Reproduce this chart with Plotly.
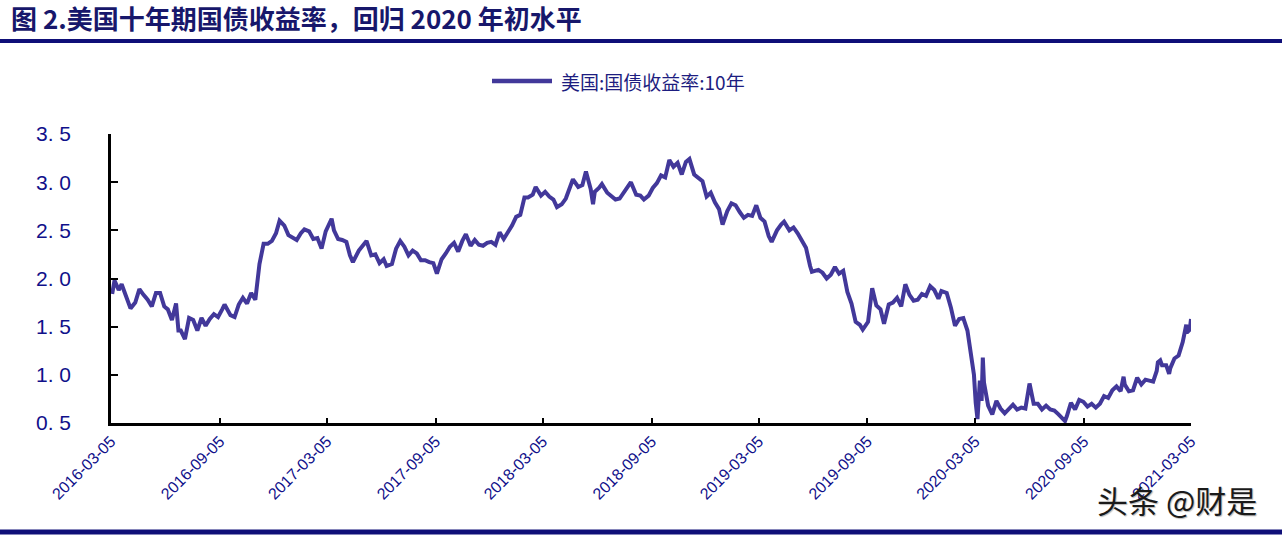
import plotly.graph_objects as go

# ---------------- data (US 10Y Treasury yield, %) ----------------
d2016 = ["2016-03-07","2016-03-11","2016-03-16","2016-03-18","2016-03-23","2016-04-01","2016-04-07","2016-04-15","2016-04-22","2016-04-29",
         "2016-05-06","2016-05-13","2016-05-20","2016-05-27","2016-06-03","2016-06-09","2016-06-16","2016-06-23","2016-06-27","2016-07-01",
         "2016-07-08","2016-07-15","2016-07-22","2016-07-29","2016-08-05","2016-08-12","2016-08-19","2016-08-26","2016-09-02","2016-09-09",
         "2016-09-13","2016-09-23","2016-09-30","2016-10-07","2016-10-14","2016-10-21","2016-10-28","2016-11-04","2016-11-09","2016-11-11",
         "2016-11-18","2016-11-25","2016-12-02","2016-12-09","2016-12-15","2016-12-23","2016-12-30"]
v2016 = [1.84,1.98,1.91,1.88,1.94,1.77,1.69,1.75,1.89,1.83,
         1.78,1.71,1.85,1.85,1.71,1.68,1.57,1.74,1.46,1.46,
         1.37,1.59,1.57,1.46,1.59,1.51,1.58,1.63,1.60,1.68,
         1.73,1.62,1.60,1.73,1.80,1.74,1.85,1.78,2.07,2.15,
         2.36,2.36,2.39,2.47,2.60,2.55,2.45]

d2017 = ["2017-01-06","2017-01-13","2017-01-20","2017-01-26","2017-02-03","2017-02-10","2017-02-17","2017-02-24","2017-03-03","2017-03-13",
         "2017-03-17","2017-03-24","2017-03-31","2017-04-07","2017-04-13","2017-04-18","2017-04-28","2017-05-05","2017-05-11","2017-05-19",
         "2017-05-26","2017-06-02","2017-06-09","2017-06-14","2017-06-23","2017-06-30","2017-07-07","2017-07-14","2017-07-21","2017-07-28",
         "2017-08-04","2017-08-11","2017-08-18","2017-08-25","2017-09-01","2017-09-07","2017-09-15","2017-09-22","2017-09-29","2017-10-06",
         "2017-10-13","2017-10-20","2017-10-26","2017-11-03","2017-11-10","2017-11-17","2017-11-24","2017-12-01","2017-12-08","2017-12-15",
         "2017-12-22","2017-12-29"]
v2017 = [2.42,2.40,2.47,2.51,2.49,2.41,2.42,2.31,2.49,2.62,
         2.50,2.41,2.40,2.38,2.24,2.17,2.29,2.35,2.39,2.24,
         2.25,2.16,2.20,2.13,2.15,2.31,2.39,2.33,2.24,2.29,
         2.26,2.19,2.19,2.17,2.16,2.05,2.20,2.26,2.33,2.37,
         2.28,2.39,2.46,2.34,2.40,2.35,2.34,2.37,2.38,2.35,
         2.48,2.41]

d2018 = ["2018-01-05","2018-01-12","2018-01-19","2018-01-26","2018-02-02","2018-02-08","2018-02-16","2018-02-21","2018-03-02","2018-03-09",
         "2018-03-16","2018-03-23","2018-03-29","2018-04-06","2018-04-13","2018-04-20","2018-04-25","2018-05-04","2018-05-11","2018-05-17",
         "2018-05-25","2018-05-29","2018-06-01","2018-06-08","2018-06-13","2018-06-22","2018-06-29","2018-07-06","2018-07-13","2018-07-20",
         "2018-07-27","2018-08-01","2018-08-10","2018-08-17","2018-08-23","2018-08-31","2018-09-07","2018-09-14","2018-09-21","2018-09-28",
         "2018-10-05","2018-10-12","2018-10-19","2018-10-26","2018-11-02","2018-11-08","2018-11-16","2018-11-23","2018-11-30","2018-12-07",
         "2018-12-14","2018-12-21","2018-12-28"]
v2018 = [2.48,2.55,2.64,2.66,2.84,2.84,2.87,2.95,2.86,2.90,
         2.85,2.82,2.74,2.77,2.83,2.96,3.03,2.95,2.97,3.11,
         2.93,2.77,2.90,2.94,2.98,2.89,2.85,2.82,2.83,2.89,
         2.95,3.00,2.87,2.86,2.82,2.86,2.94,2.99,3.07,3.05,
         3.23,3.16,3.20,3.08,3.21,3.24,3.08,3.05,3.01,2.85,
         2.89,2.79,2.72]

d2019 = ["2019-01-03","2019-01-11","2019-01-18","2019-01-25","2019-02-01","2019-02-08","2019-02-15","2019-02-22","2019-03-01","2019-03-08",
         "2019-03-15","2019-03-22","2019-03-27","2019-04-05","2019-04-12","2019-04-17","2019-04-26","2019-05-03","2019-05-10","2019-05-17",
         "2019-05-24","2019-05-31","2019-06-03","2019-06-14","2019-06-21","2019-06-28","2019-07-05","2019-07-12","2019-07-19","2019-07-26",
         "2019-08-02","2019-08-09","2019-08-16","2019-08-23","2019-08-28","2019-09-06","2019-09-13","2019-09-20","2019-09-27","2019-10-03",
         "2019-10-11","2019-10-18","2019-10-25","2019-11-01","2019-11-08","2019-11-15","2019-11-22","2019-11-29","2019-12-06","2019-12-13",
         "2019-12-20","2019-12-27"]
v2019 = [2.56,2.70,2.78,2.76,2.69,2.63,2.66,2.65,2.76,2.63,
         2.59,2.44,2.38,2.50,2.56,2.59,2.50,2.53,2.47,2.39,
         2.32,2.13,2.07,2.09,2.06,2.00,2.04,2.12,2.05,2.08,
         1.86,1.74,1.55,1.52,1.47,1.55,1.90,1.72,1.68,1.53,
         1.73,1.75,1.80,1.71,1.94,1.83,1.77,1.78,1.84,1.82,
         1.92,1.88]

d2020 = ["2020-01-03","2020-01-08","2020-01-17","2020-01-24","2020-01-31","2020-02-07","2020-02-14","2020-02-21","2020-02-28","2020-03-03",
         "2020-03-06","2020-03-09","2020-03-13","2020-03-16","2020-03-18","2020-03-20","2020-03-27","2020-04-03","2020-04-10","2020-04-17",
         "2020-04-24","2020-05-01","2020-05-08","2020-05-15","2020-05-22","2020-05-29","2020-06-05","2020-06-12","2020-06-19","2020-06-26",
         "2020-07-03","2020-07-10","2020-07-17","2020-07-24","2020-07-31","2020-08-04","2020-08-07","2020-08-14","2020-08-21","2020-08-28",
         "2020-09-04","2020-09-11","2020-09-18","2020-09-25","2020-10-02","2020-10-09","2020-10-16","2020-10-23","2020-10-30","2020-11-06",
         "2020-11-11","2020-11-13","2020-11-20","2020-11-27","2020-12-04","2020-12-11","2020-12-18","2020-12-24","2020-12-31"]
v2020 = [1.79,1.87,1.85,1.70,1.51,1.58,1.59,1.46,1.13,1.00,
         0.71,0.54,0.94,0.73,1.18,0.92,0.68,0.59,0.73,0.65,
         0.60,0.64,0.69,0.64,0.66,0.65,0.91,0.70,0.70,0.64,
         0.68,0.64,0.63,0.59,0.55,0.52,0.57,0.71,0.64,0.74,
         0.72,0.67,0.70,0.66,0.70,0.78,0.76,0.84,0.88,0.83,
         0.98,0.90,0.83,0.84,0.97,0.90,0.95,0.94,0.93]

d2021 = ["2021-01-06","2021-01-08","2021-01-12","2021-01-15","2021-01-22","2021-01-27","2021-01-29","2021-02-05","2021-02-12","2021-02-19",
         "2021-02-25","2021-02-26","2021-03-03","2021-03-05"]
v2021 = [1.04,1.13,1.15,1.10,1.10,1.01,1.07,1.17,1.20,1.34,
         1.52,1.44,1.47,1.58]

x_ticks = ["2016-03-05","2016-09-05","2017-03-05","2017-09-05","2018-03-05","2018-09-05",
           "2019-03-05","2019-09-05","2020-03-05","2020-09-05","2021-03-05"]
y_ticks = [0.5, 1.0, 1.5, 2.0, 2.5, 3.0, 3.5]
y_tick_labels = ["0. 5", "1. 0", "1. 5", "2. 0", "2. 5", "3. 0", "3. 5"]

series_name = "美国:国债收益率:10年"
title_text = "图 2.美国十年期国债收益率，回归 2020 年初水平"
watermark = "头条 @财是"

dates = d2016 + d2017 + d2018 + d2019 + d2020 + d2021
values = v2016 + v2017 + v2018 + v2019 + v2020 + v2021
assert len(dates) == len(values)

# ---------------- geometry / style ----------------
W, H = 1282, 535
L, R, T, B = 111, 1191, 134, 423
NAVY = "#0f0f78"
LINE = "#42389a"
TICKCOL = "#10108a"


def px(x):
    return (x - L) / (R - L)


def py(y):
    return (B - y) / (B - T)


fig = go.Figure()
fig.add_trace(go.Scatter(x=dates, y=values, mode="lines", name=series_name,
                         line=dict(color=LINE, width=4), showlegend=False,
                         cliponaxis=False))

fig.update_layout(
    width=W, height=H,
    margin=dict(l=L, r=W - R, t=T, b=H - B, pad=0),
    paper_bgcolor="white", plot_bgcolor="white",
    font=dict(family="Arial, Liberation Sans, sans-serif"),
)

fig.update_xaxes(
    type="date", range=["2016-03-05", "2021-03-05"],
    tickvals=x_ticks, ticktext=x_ticks, tickangle=-45,
    ticks="inside", ticklen=5, tickwidth=2, tickcolor="black",
    showline=True, linecolor="black", linewidth=2.5,
    showgrid=False, zeroline=False,
    tickfont=dict(size=16, color=TICKCOL, family="Arial, Liberation Sans, sans-serif"),
)
fig.update_yaxes(
    range=[0.5, 3.5], tickvals=y_ticks, ticktext=y_tick_labels,
    ticks="inside", ticklen=7, tickwidth=2, tickcolor="black",
    showline=True, linecolor="black", linewidth=2.5,
    showgrid=False, zeroline=False, ticklabelstandoff=33,
    tickfont=dict(size=21, color=TICKCOL, family="Arial, Liberation Sans, sans-serif"),
)

# title
fig.add_annotation(text="<b>" + title_text + "</b>", xref="paper", yref="paper",
                   x=px(9), y=py(17), xanchor="left", yanchor="middle", showarrow=False,
                   font=dict(size=26, color="#17176b", family="Noto Sans CJK SC"))
# horizontal rules
fig.add_shape(type="line", xref="paper", yref="paper", x0=px(0), x1=px(W), y0=py(41), y1=py(41),
              line=dict(color=NAVY, width=4))
fig.add_shape(type="line", xref="paper", yref="paper", x0=px(0), x1=px(W), y0=py(532), y1=py(532),
              line=dict(color=NAVY, width=5))

# legend (manual)
fig.add_shape(type="line", xref="paper", yref="paper", x0=px(492), x1=px(552), y0=py(81), y1=py(81),
              line=dict(color=LINE, width=4.5))
fig.add_annotation(text=series_name, xref="paper", yref="paper", x=px(559), y=py(81),
                   xanchor="left", yanchor="middle", showarrow=False,
                   font=dict(size=19, color="#1d1d80", family="Noto Sans CJK SC"))

# watermark
fig.add_annotation(text=watermark, xref="paper", yref="paper", x=px(1095), y=py(500),
                   xanchor="left", yanchor="middle", showarrow=False,
                   font=dict(size=31, color="#1a1a1a", family="Noto Sans CJK SC",
                             shadow="1px 1px 1px #bbbbbb"))

fig.write_html("out.html", config={"displayModeBar": False})
